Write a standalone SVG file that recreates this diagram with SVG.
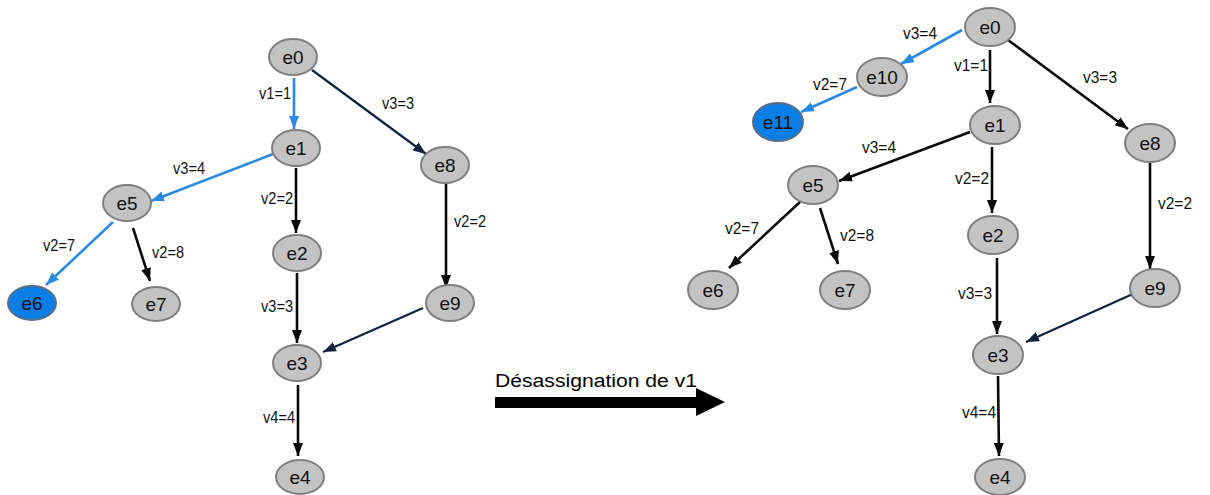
<svg xmlns="http://www.w3.org/2000/svg" width="1210" height="495" viewBox="0 0 1210 495">
  <style>
    .node ellipse { fill: #c3c3c3; stroke: #7f7f7f; stroke-width: 2; }
    .node.sel ellipse { fill: #0b7ee6; stroke: #5a6f86; }
    .node text { font-family: "Liberation Sans", Arial, sans-serif; font-size: 19px; fill: #111; text-anchor: middle; }
    .edge { fill: none; stroke-width: 2.6; }
    .blk { stroke: #0a0a0a; marker-end: url(#ah-blk); }
    .blu { stroke: #2a8ae2; marker-end: url(#ah-blu); }
    .nvy { stroke: #0e2440; stroke-width: 2.2; marker-end: url(#ah-nvy); }
    .lbl { font-family: "Liberation Sans", Arial, sans-serif; font-size: 16px; fill: #111; }
    .title { font-family: "Liberation Sans", Arial, sans-serif; font-size: 18px; fill: #000; }
  </style>
  <defs>
    <marker id="ah-blk" markerUnits="userSpaceOnUse" markerWidth="13" markerHeight="10" refX="13" refY="5" orient="auto">
      <path d="M0,0 L13,5 L0,10 z" fill="#0a0a0a"/>
    </marker>
    <marker id="ah-blu" markerUnits="userSpaceOnUse" markerWidth="13" markerHeight="10" refX="13" refY="5" orient="auto">
      <path d="M0,0 L13,5 L0,10 z" fill="#2a8ae2"/>
    </marker>
    <marker id="ah-nvy" markerUnits="userSpaceOnUse" markerWidth="13" markerHeight="10" refX="13" refY="5" orient="auto">
      <path d="M0,0 L13,5 L0,10 z" fill="#0e2440"/>
    </marker>
  </defs>

  <!-- left tree: connectors -->
  <g id="connectors-left">
    <line class="edge blu" x1="294" y1="78" x2="294" y2="129"/>
    <line class="edge nvy" x1="312" y1="70" x2="426" y2="154"/>
    <line class="edge blu" x1="273" y1="154" x2="151" y2="201"/>
    <line class="edge blk" x1="296" y1="168" x2="296" y2="233"/>
    <line class="edge blk" x1="446" y1="183" x2="446" y2="288"/>
    <line class="edge blu" x1="113" y1="222" x2="46" y2="285"/>
    <line class="edge blk" x1="133" y1="228" x2="150" y2="281"/>
    <line class="edge blk" x1="297" y1="273" x2="297" y2="343"/>
    <line class="edge nvy" x1="423" y1="308" x2="323" y2="352"/>
    <line class="edge blk" x1="298" y1="385" x2="298" y2="456"/>
    <text class="lbl" x="259" y="99" textLength="32" lengthAdjust="spacingAndGlyphs">v1=1</text>
    <text class="lbl" x="382" y="109" textLength="32" lengthAdjust="spacingAndGlyphs">v3=3</text>
    <text class="lbl" x="173" y="174" textLength="32" lengthAdjust="spacingAndGlyphs">v3=4</text>
    <text class="lbl" x="261" y="204" textLength="32" lengthAdjust="spacingAndGlyphs">v2=2</text>
    <text class="lbl" x="454" y="227" textLength="32" lengthAdjust="spacingAndGlyphs">v2=2</text>
    <text class="lbl" x="43" y="251" textLength="32" lengthAdjust="spacingAndGlyphs">v2=7</text>
    <text class="lbl" x="152" y="258" textLength="32" lengthAdjust="spacingAndGlyphs">v2=8</text>
    <text class="lbl" x="261" y="312" textLength="32" lengthAdjust="spacingAndGlyphs">v3=3</text>
    <text class="lbl" x="263" y="423" textLength="32" lengthAdjust="spacingAndGlyphs">v4=4</text>
  </g>

  <!-- left tree: nodes -->
  <g id="L-e0" class="node"><ellipse cx="293" cy="57" rx="24" ry="18"/><text x="293" y="64">e0</text></g>
  <g id="L-e1" class="node"><ellipse cx="296" cy="148" rx="24" ry="18"/><text x="296" y="155">e1</text></g>
  <g id="L-e8" class="node"><ellipse cx="445" cy="165" rx="24" ry="18"/><text x="445" y="172">e8</text></g>
  <g id="L-e5" class="node"><ellipse cx="127" cy="203" rx="24" ry="18"/><text x="127" y="210">e5</text></g>
  <g id="L-e2" class="node"><ellipse cx="297" cy="253" rx="24" ry="18"/><text x="297" y="260">e2</text></g>
  <g id="L-e6" class="node sel"><ellipse cx="32" cy="303" rx="24" ry="17"/><text x="32" y="310">e6</text></g>
  <g id="L-e7" class="node"><ellipse cx="156" cy="304" rx="24" ry="17"/><text x="156" y="311">e7</text></g>
  <g id="L-e9" class="node"><ellipse cx="450" cy="303" rx="24" ry="18"/><text x="450" y="310">e9</text></g>
  <g id="L-e3" class="node"><ellipse cx="297" cy="363" rx="24" ry="18"/><text x="297" y="370">e3</text></g>
  <g id="L-e4" class="node"><ellipse cx="300" cy="477" rx="24" ry="17"/><text x="300" y="484">e4</text></g>

  <!-- transition arrow -->
  <g id="transition">
    <text class="title" x="495" y="387" textLength="202" lengthAdjust="spacingAndGlyphs">Désassignation de v1</text>
    <polygon points="495,397 696,397 696,388 725,402 696,416 696,408 495,408" fill="#000"/>
  </g>

  <!-- right tree: connectors -->
  <g id="connectors-right">
    <line class="edge blu" x1="962" y1="30" x2="901" y2="64"/>
    <line class="edge blu" x1="857" y1="87" x2="801" y2="112"/>
    <line class="edge blk" x1="990" y1="50" x2="990" y2="103"/>
    <line class="edge blk" x1="1008" y1="40" x2="1128" y2="129"/>
    <line class="edge blk" x1="970" y1="132" x2="839" y2="181"/>
    <line class="edge blk" x1="992" y1="147" x2="992" y2="213"/>
    <line class="edge blk" x1="1150" y1="163" x2="1150" y2="269"/>
    <line class="edge blk" x1="800" y1="202" x2="729" y2="268"/>
    <line class="edge blk" x1="820" y1="208" x2="838" y2="264"/>
    <line class="edge blk" x1="997" y1="258" x2="997" y2="334"/>
    <line class="edge nvy" x1="1135" y1="293" x2="1026" y2="342"/>
    <line class="edge blk" x1="998" y1="376" x2="999" y2="456"/>
    <text class="lbl" x="903" y="39" textLength="34" lengthAdjust="spacingAndGlyphs">v3=4</text>
    <text class="lbl" x="813" y="90" textLength="34" lengthAdjust="spacingAndGlyphs">v2=7</text>
    <text class="lbl" x="954" y="71" textLength="34" lengthAdjust="spacingAndGlyphs">v1=1</text>
    <text class="lbl" x="1083" y="83" textLength="34" lengthAdjust="spacingAndGlyphs">v3=3</text>
    <text class="lbl" x="862" y="153" textLength="34" lengthAdjust="spacingAndGlyphs">v3=4</text>
    <text class="lbl" x="955" y="184" textLength="34" lengthAdjust="spacingAndGlyphs">v2=2</text>
    <text class="lbl" x="1158" y="209" textLength="34" lengthAdjust="spacingAndGlyphs">v2=2</text>
    <text class="lbl" x="725" y="234" textLength="34" lengthAdjust="spacingAndGlyphs">v2=7</text>
    <text class="lbl" x="840" y="241" textLength="34" lengthAdjust="spacingAndGlyphs">v2=8</text>
    <text class="lbl" x="958" y="299" textLength="34" lengthAdjust="spacingAndGlyphs">v3=3</text>
    <text class="lbl" x="962" y="418" textLength="34" lengthAdjust="spacingAndGlyphs">v4=4</text>
  </g>

  <!-- right tree: nodes -->
  <g id="R-e0" class="node"><ellipse cx="990" cy="27" rx="25" ry="19"/><text x="990" y="34">e0</text></g>
  <g id="R-e10" class="node"><ellipse cx="882" cy="77" rx="25" ry="19"/><text x="882" y="84">e10</text></g>
  <g id="R-e11" class="node sel"><ellipse cx="778" cy="122" rx="25" ry="19"/><text x="778" y="129">e11</text></g>
  <g id="R-e1" class="node"><ellipse cx="995" cy="125" rx="25" ry="19"/><text x="995" y="132">e1</text></g>
  <g id="R-e8" class="node"><ellipse cx="1150" cy="143" rx="25" ry="19"/><text x="1150" y="150">e8</text></g>
  <g id="R-e5" class="node"><ellipse cx="813" cy="185" rx="25" ry="19"/><text x="813" y="192">e5</text></g>
  <g id="R-e2" class="node"><ellipse cx="993" cy="235" rx="25" ry="19"/><text x="993" y="242">e2</text></g>
  <g id="R-e6" class="node"><ellipse cx="713" cy="290" rx="25" ry="19"/><text x="713" y="297">e6</text></g>
  <g id="R-e7" class="node"><ellipse cx="845" cy="290" rx="25" ry="19"/><text x="845" y="297">e7</text></g>
  <g id="R-e9" class="node"><ellipse cx="1155" cy="288" rx="25" ry="19"/><text x="1155" y="295">e9</text></g>
  <g id="R-e3" class="node"><ellipse cx="998" cy="355" rx="25" ry="19"/><text x="998" y="362">e3</text></g>
  <g id="R-e4" class="node"><ellipse cx="1000" cy="477" rx="25" ry="18"/><text x="1000" y="484">e4</text></g>
</svg>
